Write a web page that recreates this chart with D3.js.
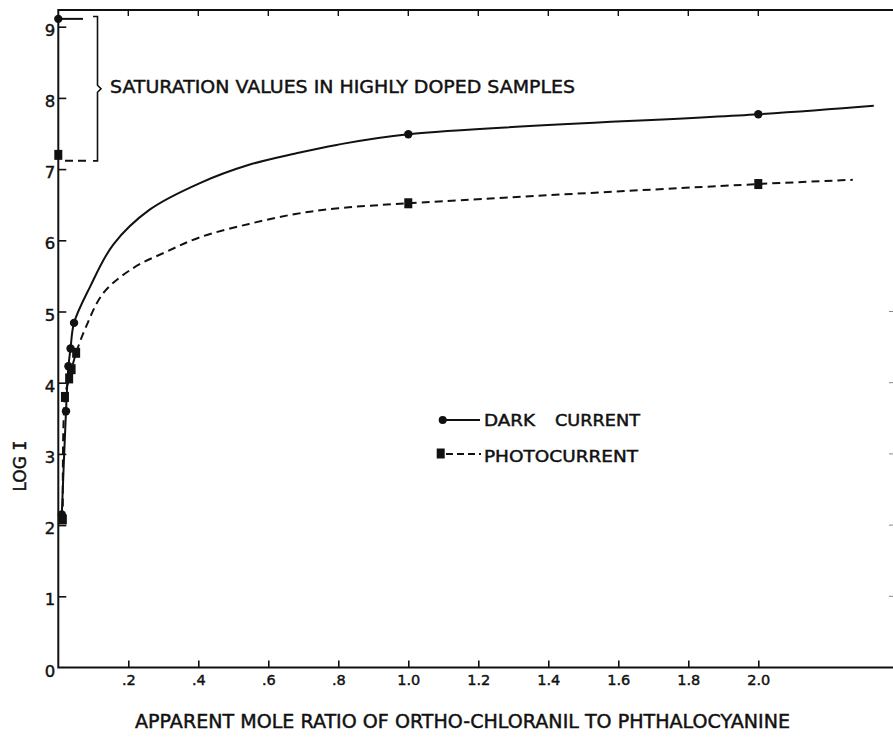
<!DOCTYPE html>
<html>
<head>
<meta charset="utf-8">
<script src="https://cdn.jsdelivr.net/npm/d3@7"></script>
<style>
body { margin: 0; background: #fff; }
svg { display: block; }
text { font-family: "DejaVu Sans", sans-serif; fill: #111; stroke: #111; stroke-width: 0.45px; }
</style>
</head>
<body>
<svg width="893" height="737"></svg>
<script>
const darkX  = [0.010, 0.022, 0.029, 0.035, 0.045, 1.0, 2.0];
const darkY  = [2.15, 3.60, 4.23, 4.48, 4.84, 7.49, 7.77];
const photoX = [0.013, 0.019, 0.031, 0.038, 0.051, 1.0, 2.0];
const photoY = [2.08, 3.80, 4.06, 4.19, 4.42, 6.52, 6.79];

// hand drawn curves through the points
const darkCurveX  = [0.010, 0.022, 0.029, 0.035, 0.045, 0.091, 0.157, 0.261, 0.403, 0.545, 0.678, 0.795, 1.0, 2.0, 2.33];
const darkCurveY  = [2.15, 3.60, 4.23, 4.48, 4.84, 5.35, 5.94, 6.43, 6.80, 7.06, 7.22, 7.34, 7.49, 7.77, 7.89];
const photoCurveX = [0.013, 0.019, 0.031, 0.038, 0.051, 0.077, 0.129, 0.214, 0.309, 0.403, 0.545, 0.678, 0.8, 1.0, 2.0, 2.27];
const photoCurveY = [2.08, 3.80, 4.06, 4.19, 4.42, 4.76, 5.26, 5.61, 5.84, 6.04, 6.23, 6.37, 6.45, 6.52, 6.79, 6.85];

// saturation values in highly doped samples (plotted on the y axis)
const satDark = 9.11;
const satPhoto = 7.20;

const xTicks = [0.2, 0.4, 0.6, 0.8, 1.0, 1.2, 1.4, 1.6, 1.8, 2.0];
const xTickLabels = [".2", ".4", ".6", ".8", "1.0", "1.2", "1.4", "1.6", "1.8", "2.0"];
const yTicks = [0, 1, 2, 3, 4, 5, 6, 7, 8, 9];

const svg = d3.select("svg"),
      width = 893,
      frameTop = 10;

const x = d3.scaleLinear().domain([0, 2]).range([58.3, 758.3]);
const y = d3.scaleLinear().domain([0, 9]).range([667.5, 26.7]);

const ink = "#111";

// frame: bottom, left, top
svg.append("path")
    .attr("d", `M${width},${y(0)}H${x(0)}V${frameTop}H${width}`)
    .attr("fill", "none")
    .attr("stroke", ink)
    .attr("stroke-width", 2);

// bottom axis with inward ticks
const xAxis = svg.append("g")
    .attr("transform", `translate(0,${y(0)})`)
    .call(d3.axisBottom(x)
        .tickValues(xTicks)
        .tickSize(-7)
        .tickPadding(7.5)
        .tickFormat((d, i) => xTickLabels[i]));
xAxis.select(".domain").remove();
xAxis.selectAll("line").attr("stroke", ink).attr("stroke-width", 1.6);
xAxis.selectAll("text").attr("font-size", 14.5).attr("font-family", "DejaVu Sans").attr("fill", ink);

// top ticks
svg.append("g").selectAll("line")
    .data(xTicks)
    .join("line")
    .attr("x1", d => x(d)).attr("x2", d => x(d))
    .attr("y1", frameTop).attr("y2", frameTop + 6)
    .attr("stroke", ink).attr("stroke-width", 1.4);

// left axis
const yAxis = svg.append("g")
    .attr("transform", `translate(${x(0)},0)`)
    .call(d3.axisLeft(y)
        .tickValues(yTicks)
        .tickSize(-8)
        .tickPadding(3)
        .tickFormat(d3.format("d")));
yAxis.select(".domain").remove();
yAxis.selectAll("line").attr("stroke", ink).attr("stroke-width", 1.6)
    .filter(d => d === 0).remove();
yAxis.selectAll("text").attr("font-size", 16.5).attr("font-family", "DejaVu Sans")
    .attr("fill", ink).attr("dy", "0.52em");

// faint tick stubs on the cropped right edge
svg.append("g").selectAll("line")
    .data(yTicks.filter(d => d > 0 && d < 6))
    .join("line")
    .attr("x1", width - 4).attr("x2", width)
    .attr("y1", d => y(d)).attr("y2", d => y(d))
    .attr("stroke", "#888").attr("stroke-width", 1);

// curves
const line = d3.line()
    .x(d => x(d[0]))
    .y(d => y(d[1]))
    .curve(d3.curveCatmullRom.alpha(0.5));

svg.append("path")
    .datum(darkCurveX.map((v, i) => [v, darkCurveY[i]]))
    .attr("d", line)
    .attr("fill", "none")
    .attr("stroke", ink)
    .attr("stroke-width", 2);

svg.append("path")
    .datum(photoCurveX.map((v, i) => [v, photoCurveY[i]]))
    .attr("d", line)
    .attr("fill", "none")
    .attr("stroke", ink)
    .attr("stroke-width", 2)
    .attr("stroke-dasharray", "8,5");

// markers
svg.append("g").selectAll("circle")
    .data(darkX.map((v, i) => [v, darkY[i]]))
    .join("circle")
    .attr("cx", d => x(d[0]))
    .attr("cy", d => y(d[1]))
    .attr("r", 4.2)
    .attr("fill", ink);

svg.append("g").selectAll("rect")
    .data(photoX.map((v, i) => [v, photoY[i]]))
    .join("rect")
    .attr("x", d => x(d[0]) - 4)
    .attr("y", d => y(d[1]) - 5)
    .attr("width", 8)
    .attr("height", 10)
    .attr("fill", ink);

// saturation markers and bracket
const sat = svg.append("g");
const yTopBr = y(satDark) - 2.3,
      yBotBr = y(satPhoto) + 6;
sat.append("circle")
    .attr("cx", x(0)).attr("cy", y(satDark)).attr("r", 4.2).attr("fill", ink);
sat.append("line")
    .attr("x1", x(0)).attr("x2", 83)
    .attr("y1", y(satDark)).attr("y2", y(satDark))
    .attr("stroke", ink).attr("stroke-width", 2);
sat.append("rect")
    .attr("x", x(0) - 4).attr("y", y(satPhoto) - 5)
    .attr("width", 8).attr("height", 10).attr("fill", ink);
sat.append("line")
    .attr("x1", 65).attr("x2", 87)
    .attr("y1", yBotBr).attr("y2", yBotBr)
    .attr("stroke", ink).attr("stroke-width", 2)
    .attr("stroke-dasharray", "8,5");
const yMid = (yTopBr + yBotBr) / 2;
sat.append("path")
    .attr("d", `M93,${yTopBr}H97.5V${yMid - 3.5}L101,${yMid}L97.5,${yMid + 3.5}V${yBotBr}H93`)
    .attr("fill", "none")
    .attr("stroke", ink)
    .attr("stroke-width", 1.6);
sat.append("text")
    .attr("x", 110).attr("y", 93)
    .attr("font-size", 18)
    .attr("textLength", 465)
    .attr("lengthAdjust", "spacingAndGlyphs")
    .text("SATURATION VALUES IN HIGHLY DOPED SAMPLES");

// legend
const legend = svg.append("g");
legend.append("circle").attr("cx", 442.7).attr("cy", 420).attr("r", 4).attr("fill", ink);
legend.append("line").attr("x1", 444).attr("x2", 480).attr("y1", 420).attr("y2", 420)
    .attr("stroke", ink).attr("stroke-width", 2);
const darkLabel = legend.append("text").attr("y", 426).attr("font-size", 15);
darkLabel.append("tspan").attr("x", 484).attr("textLength", 51)
    .attr("lengthAdjust", "spacingAndGlyphs").text("DARK");
darkLabel.append("tspan").attr("x", 555).attr("textLength", 85)
    .attr("lengthAdjust", "spacingAndGlyphs").text("CURRENT");

legend.append("rect").attr("x", 436.7).attr("y", 448.5).attr("width", 8).attr("height", 10).attr("fill", ink);
legend.append("line").attr("x1", 446).attr("x2", 481).attr("y1", 454).attr("y2", 454)
    .attr("stroke", ink).attr("stroke-width", 2).attr("stroke-dasharray", "7,4");
legend.append("text").attr("x", 484).attr("y", 461.7).attr("font-size", 15)
    .attr("textLength", 154).attr("lengthAdjust", "spacingAndGlyphs")
    .text("PHOTOCURRENT");

// axis titles
svg.append("text")
    .attr("x", 135).attr("y", 727.5)
    .attr("font-size", 19)
    .attr("textLength", 655)
    .attr("lengthAdjust", "spacingAndGlyphs")
    .text("APPARENT MOLE RATIO OF ORTHO-CHLORANIL TO PHTHALOCYANINE");

const yTitle = svg.append("text")
    .attr("transform", "translate(26,466) rotate(-90)")
    .attr("text-anchor", "middle")
    .attr("font-size", 17);
yTitle.append("tspan").text("LOG ");
yTitle.append("tspan").attr("font-family", "DejaVu Sans Mono").text("I");
</script>
</body>
</html>
